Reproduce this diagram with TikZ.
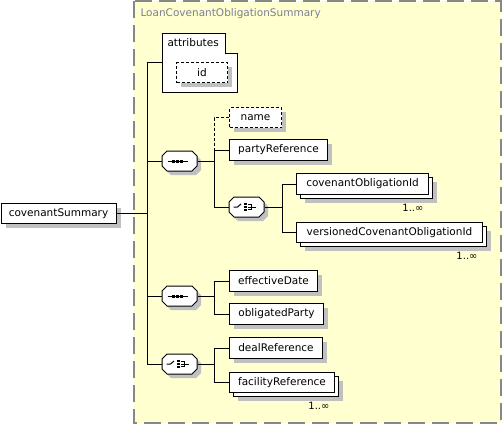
\documentclass[tikz,border=0pt]{standalone}
\usepackage{fontspec}
\setmainfont{DejaVu Sans}
\usetikzlibrary{shadows}
\definecolor{grpfill}{RGB}{255,255,208}
\definecolor{grpline}{RGB}{135,135,135}
\definecolor{shgray}{RGB}{192,192,192}
\definecolor{lblgray}{RGB}{125,125,150}
\newcommand\xsdoct[2]{%
  \begin{scope}[shift={(#1.center)}]
    \fill[shgray] (-8.5,-6) -- (16.5,-6) -- (21.5,-1) -- (21.5,9) -- (16.5,14) -- (-8.5,14) -- (-13.5,9) -- (-13.5,-1) -- cycle;
    \draw[fill=white] (-12.5,-10) -- (12.5,-10) -- (17.5,-5) -- (17.5,5) -- (12.5,10) -- (-12.5,10) -- (-17.5,5) -- (-17.5,-5) -- cycle;
    #2
  \end{scope}}
\newcommand\xsdseqicon{%
  \draw (-12,0) -- (8,0);
  \fill (-7.5,-1.5) rectangle (-4.5,1.5);
  \fill (-3.5,-1.5) rectangle (-0.5,1.5);
  \fill (0.5,-1.5) rectangle (3.5,1.5);}
\newcommand\xsdchoiceicon{%
  \draw (-13,0) -- (-9,0) -- (-5.5,-3);
  \fill (-2.8,-4.3) rectangle (0,-1.7);
  \fill (-2.8,-1.3) rectangle (0,1.3);
  \fill (-2.8,1.7) rectangle (0,4.3);
  \draw (1.5,-2.5) -- (4.5,-2.5) -- (4.5,2.5) -- (1.5,2.5);
  \draw (1.5,0) -- (9.5,0);}
\begin{document}
\begin{tikzpicture}[x=1pt,y=-1pt,line width=1pt,
  every node/.style={font=\fontsize{10.5}{12}\selectfont,inner sep=0pt},
  elem/.style={draw,fill=white,anchor=north west,
    drop shadow={shadow xshift=4.5pt,shadow yshift=-4.5pt,fill=shgray,opacity=1}},
  optelem/.style={elem,dash pattern=on 3pt off 2pt},
  multi/.style={draw,fill=white,anchor=north west,
    drop shadow={shadow xshift=8pt,shadow yshift=-8pt,fill=shgray,opacity=1},
    copy shadow={shadow xshift=4pt,shadow yshift=-4pt,draw=black,fill=white,opacity=1}},
  iconbox/.style={minimum width=35pt,minimum height=20pt,draw=none},
  mult/.style={anchor=north east,font=\fontsize{10}{12}\selectfont},
  conn/.style={draw=black,line width=1pt},
  optconn/.style={conn,dash pattern=on 3pt off 2pt},
  grp/.style={draw=grpline,fill=grpfill,line width=1.2pt,dash pattern=on 17pt off 7pt},
  grplabel/.style={anchor=west,text=lblgray}]
\useasboundingbox (0,0) rectangle (502,424);
% group
\path[grp] (134,1) rectangle (501,423);
\node[grplabel] (glabel) at (140,14) {LoanCovenantObligationSummary};
% attributes
\draw[fill=white] (162,33) -- (225,33) -- (225,53) -- (237,53) -- (237,92) -- (162,92) -- cycle;
\node[anchor=west] (attr) at (167,43) {attributes};
\coordinate (attrW) at (162,62);
\node[optelem,minimum width=51pt,minimum height=20pt] (id) at (176,62) {id};
% root
\node[elem,minimum width=115pt,minimum height=20pt] (cs) at (0.5,203) {covenantSummary};
% coordinates of the trunks
\coordinate (trunk) at (147,0);
\coordinate (j1) at (214,0);
\coordinate (j2) at (282,0);
% compositors
\node[iconbox] (seq1) at (179.5,161) {};
\node[iconbox] (ch1) at (246.5,207) {};
\node[iconbox] (seq2) at (179.5,296) {};
\node[iconbox] (ch2) at (179.5,364) {};
\xsdoct{seq1}{\xsdseqicon}
\xsdoct{ch1}{\xsdchoiceicon}
\xsdoct{seq2}{\xsdseqicon}
\xsdoct{ch2}{\xsdchoiceicon}
% elements
\node[optelem,minimum width=52pt,minimum height=20pt] (name) at (229,107) {name};
\node[elem,minimum width=98pt,minimum height=21pt] (pr) at (229,139) {partyReference};
\node[multi,minimum width=132pt,minimum height=21pt] (cob) at (296,173) {covenantObligationId};
\node[mult] (m1) at ([shift={(-5,9)}]cob.south east) {1..∞};
\node[multi,minimum width=186pt,minimum height=20pt] (vcob) at (296,222) {versionedCovenantObligationId};
\node[mult] (m2) at ([shift={(-5,9)}]vcob.south east) {1..∞};
\node[elem,minimum width=88pt,minimum height=21pt] (ed) at (229,270) {effectiveDate};
\node[elem,minimum width=94pt,minimum height=21pt] (op) at (229,303) {obligatedParty};
\node[elem,minimum width=93pt,minimum height=21pt] (dr) at (229,337) {dealReference};
\node[multi,minimum width=105pt,minimum height=20pt] (fr) at (229,372) {facilityReference};
\node[mult] (m3) at ([shift={(-5,9)}]fr.south east) {1..∞};
% connectors
\draw[conn] (cs.east) -- (cs.east -| trunk);
\draw[conn] (attrW) -- (attrW -| trunk) |- (ch2.west);
\draw[conn] (seq1.west) -- (seq1.west -| trunk);
\draw[conn] (seq2.west) -- (seq2.west -| trunk);
\draw[conn] (seq1.east) -- (seq1.east -| j1);
\draw[optconn] (name.west) -| (j1 |- pr.west);
\draw[conn] (ch1.west) -| (j1 |- pr.west) -- (pr.west);
\draw[conn] (ch1.east) -- (ch1.east -| j2);
\draw[conn] (cob.west) -| (j2 |- vcob.west) -- (vcob.west);
\draw[conn] (seq2.east) -- (seq2.east -| j1);
\draw[conn] (ed.west) -| (j1 |- op.west) -- (op.west);
\draw[conn] (ch2.east) -- (ch2.east -| j1);
\draw[conn] (dr.west) -| (j1 |- fr.west) -- (fr.west);
\end{tikzpicture}
\end{document}
